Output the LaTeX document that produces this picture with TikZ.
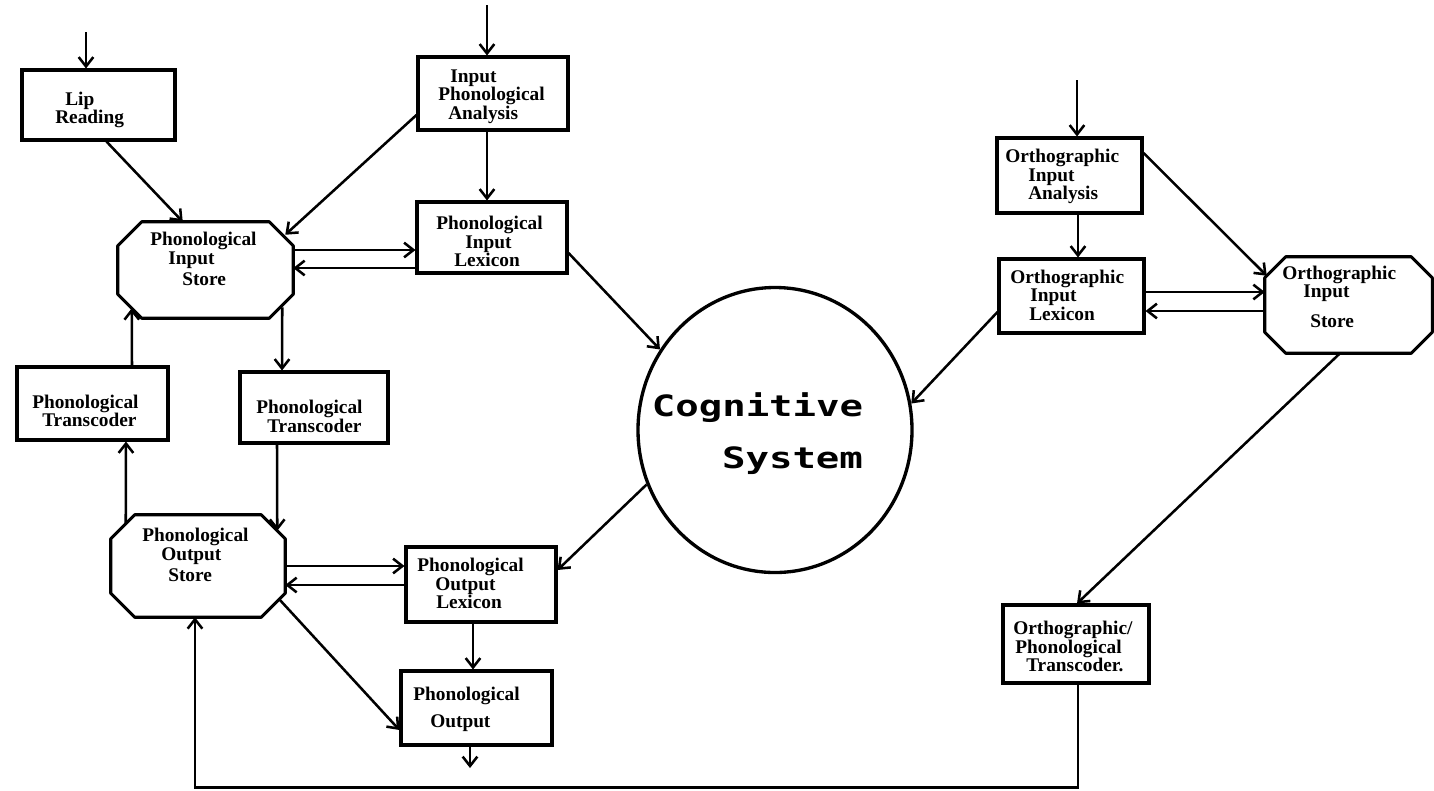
\documentclass[tikz,border=0pt]{standalone}
\usepackage{fontspec}
\setmainfont{Liberation Serif}
\newfontfamily\pixfont{DejaVu Sans Mono}
\usetikzlibrary{arrows.meta,fit,shapes.geometric,calc}
\newcommand\octo[2]{%
  \draw[octline] ($(#1.north west)+(#2,0)$) -- ($(#1.north east)+(-#2,0)$)
   -- ($(#1.north east)+(0,#2)$) -- ($(#1.south east)+(0,-#2)$)
   -- ($(#1.south east)+(-#2,0)$) -- ($(#1.south west)+(#2,0)$)
   -- ($(#1.south west)+(0,-#2)$) -- ($(#1.north west)+(0,#2)$) -- cycle;}
\newcommand\ind[1]{\hspace*{#1pt}}
\begin{document}
\begin{tikzpicture}[x=0.75pt,y=-0.75pt,
  box/.style={draw, line width=2.3pt, inner sep=0pt},
  oct/.style={draw=none, inner sep=0pt},
  lbl/.style={anchor=west, inner sep=0pt, align=left, font=\bfseries\fontsize{14.5}{13.9}\selectfont},
  octline/.style={line width=2.3pt, line join=round},
  conn/.style={line width=1.9pt, -{Straight Barb[length=7pt,width=11pt]}},
  pix/.style={anchor=base, inner sep=0pt, font=\pixfont\bfseries\fontsize{22}{22}\selectfont}]
\fill[white] (0,0) rectangle (1434,790);
\useasboundingbox (0,0) rectangle (1434,790);

% boxes and their labels
\node[box, fit={(22,70)(175,140)}] (lip) {};
\node[lbl] (lipT) at (55,110) {\ind{7.5}Lip\\Reading};
\node[box, fit={(418,57)(568,130)}] (ipa) {};
\node[lbl] (ipaT) at (438,96.5) {\ind{9}Input\\Phonological\\\ind{7.5}Analysis};
\node[box, fit={(417,202)(567,273)}] (pil) {};
\node[lbl] (pilT) at (436,241.5) {Phonological\\\ind{21.75}Input\\\ind{13.5}Lexicon};
\node[oct, fit={(118,222)(293,318)}] (pis) {};
\octo{pis}{24}
\node[lbl] (pisT) at (150,259) {Phonological\\\ind{13.5}Input\\[2pt]\ind{24}Store};
\node[box, fit={(17,367)(168,440)}] (ptl) {};
\node[lbl] (ptlT) at (32,411) {Phonological\\\ind{7.5}Transcoder};
\node[box, fit={(240,372)(388,443)}] (ptm) {};
\node[lbl] (ptmT) at (256,416.5) {Phonological\\\ind{8.25}Transcoder};
\node[oct, fit={(111,515)(285,617)}] (pos) {};
\octo{pos}{24}
\node[lbl] (posT) at (142,555) {Phonological\\\ind{14.25}Output\\[2pt]\ind{19.5}Store};
\node[box, fit={(406,547)(556,622)}] (pol) {};
\node[lbl] (polT) at (417,583.5) {Phonological\\\ind{13.5}Output\\\ind{14.25}Lexicon};
\node[box, fit={(401,671)(552,745)}] (pout) {};
\node[lbl] (poutT) at (413,709) {Phonological\\[6.4pt]\ind{12.75}Output};
\node[box, fit={(997,138)(1142,213)}] (oia) {};
\node[lbl] (oiaT) at (1005,176.5) {Orthographic\\\ind{17.25}Input\\\ind{17.25}Analysis};
\node[box, fit={(999,259)(1144,333)}] (oil) {};
\node[lbl] (oilT) at (1010,295) {Orthographic\\\ind{15}Input\\\ind{14.25}Lexicon};
\node[oct, fit={(1265,257)(1432,353)}] (ois) {};
\octo{ois}{21}
\node[lbl] (oisT) at (1282,297) {Orthographic\\\ind{15.75}Input\\[8.6pt]\ind{21}Store};
\node[box, fit={(1003,605)(1149,683)}] (opt) {};
\node[lbl] (optT) at (1013,646.5) {Orthographic/\\\ind{1.5}Phonological\\\ind{9.75}Transcoder.};

% cognitive system
\node[draw, ellipse, line width=2.5pt, minimum width=274*0.75pt, minimum height=285*0.75pt, inner sep=0pt] (cog) at (775,430) {};
\node[pix] (cogA) at (757.5,416) {\scalebox{1.33}[1]{Cognitive}};
\node[pix] (cogB) at (792.5,468) {\scalebox{1.33}[1]{System}};

% external inputs / outputs
\coordinate (inlip) at (86,32);
\coordinate (inipa) at (487,5);
\coordinate (inoia) at (1077,80);
\coordinate (outc) at (470,768);
\draw[conn] (inlip) -- (inlip |- lip.north);
\draw[conn] (inipa) -- (inipa |- ipa.north);
\draw[conn] (inoia) -- (inoia |- oia.north);

% left top
\draw[conn] ($(lip.south west)+(86,0)$) -- ($(pis.north west)+(65,0)$);
\draw[conn] (ipa.west |- 0,115) -- ($(pis.north east)+(-8,13)$);
\draw[conn] (487,0 |- ipa.south) -- (487,0 |- pil.north);
\draw[conn] (pis.east |- 0,250) -- (pil.west |- 0,250);
\draw[conn] (pil.west |- 0,268) -- (pis.east |- 0,268);
\draw[conn] (pil.east |- 0,253) -- (cog.145);

% transcoders
\draw[conn] ($(pis.south east)+(-11,-11)$) -- (282,0 |- ptm.north);
\draw[conn] (132,0 |- ptl.north) -- ($(pis.south west)+(14,-10)$);
\draw[conn] ($(pos.north west)+(15,9)$) -- (126,0 |- ptl.south);
\draw[conn] (277,0 |- ptm.south) -- ($(pos.north east)+(-8,16)$);

% output side
\draw[conn] (pos.east |- 0,566) -- (pol.west |- 0,566);
\draw[conn] (pol.west |- 0,585) -- (pos.east |- 0,585);
\draw[conn] (cog.203) -- (pol.east |- 0,570);
\draw[conn] (473,0 |- pol.south) -- (473,0 |- pout.north);
\draw[conn] (470,0 |- pout.south) -- (outc);
\draw[conn] ($(pos.south east)+(-6,-18)$) -- (pout.west |- 0,730);

% orthographic side
\draw[conn] (1078,0 |- oia.south) -- (1078,0 |- oil.north);
\draw[conn] (oia.east |- 0,153) -- ($(ois.north west)+(2,19)$);
\draw[conn] (oil.east |- 0,292) -- (ois.west |- 0,292);
\draw[conn] (ois.west |- 0,311) -- (oil.east |- 0,311);
\draw[conn] (oil.west |- 0,312) -- (cog.11.5);
\draw[conn] (1340,0 |- ois.south) -- (1077,0 |- opt.north);
\draw[conn] (1078,0 |- opt.south) -- ++(0,103) -| (195,0 |- pos.south);
\end{tikzpicture}
\end{document}
